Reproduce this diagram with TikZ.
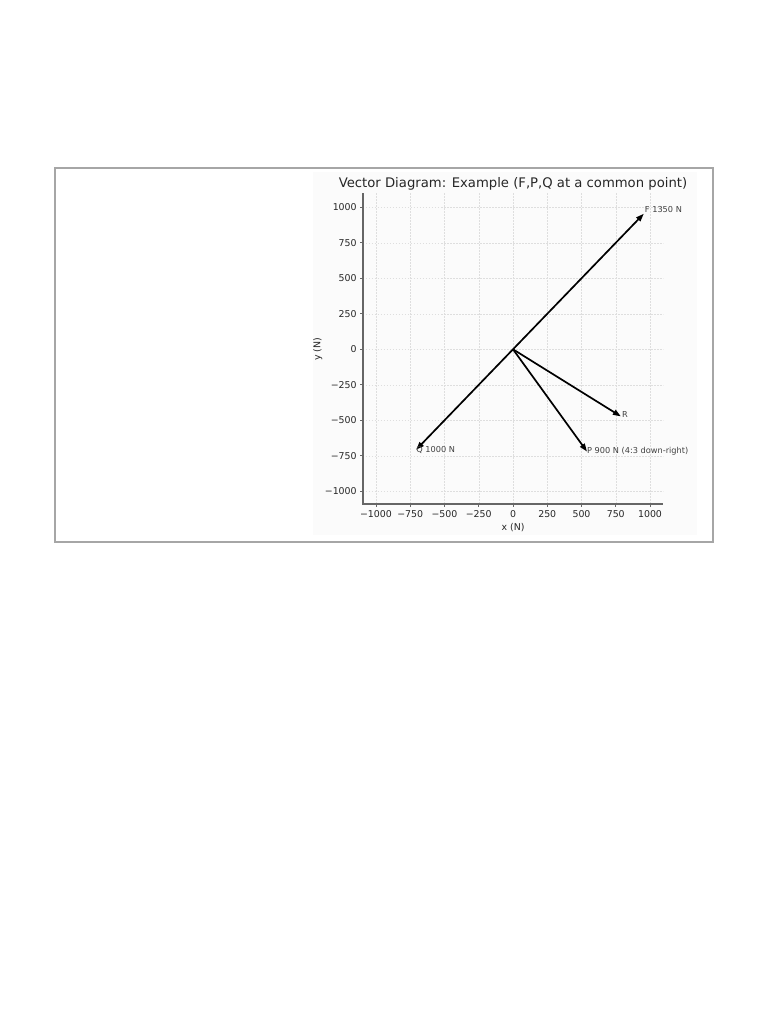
\documentclass[tikz,border=0pt]{standalone}
\usepackage{fontspec}
\setmainfont{DejaVu Sans}
\usetikzlibrary{arrows.meta}

\tikzset{
  frame/.style={draw=black!35, line width=1.3pt},
  gridline/.style={draw=black!13, line width=0.5pt, dash pattern=on 1.5pt off 1.5pt},
  spine/.style={draw=black!60, line width=1.2pt},
  tick/.style={draw=black!60, line width=0.8pt},
  ticklbl/.style={inner sep=0pt, text=black!85, font=\fontsize{9.4}{11}\selectfont},
  vec/.style={line width=1.7pt, -{Triangle[length=8pt,width=5.5pt]}},
  veclbl/.style={inner sep=0pt, anchor=west, text=black!75, font=\fontsize{8.2}{10}\selectfont}
}

\begin{document}
\begin{tikzpicture}[x=1pt,y=-1pt]
	\useasboundingbox (0,0) rectangle (768,1024);
	\fill[white] (0,0) rectangle (768,1024);
	\draw[frame] (55,168) rectangle (713,542);
	\fill[black!1.5] (313,172) rectangle (697,535);
	\node[text=black!85, font=\fontsize{13.2}{15}\selectfont] (title) at (513,184) {Vector Diagram: Example (F,P,Q at a common point)};
	\coordinate (O) at (513,349.3);
	\begin{scope}[shift={(O)}, x=0.137pt, y=0.142pt]
	% grid
	\draw[gridline] (-1000,-1089) -- (-1000,1100);
	\draw[gridline] (-750,-1089) -- (-750,1100);
	\draw[gridline] (-500,-1089) -- (-500,1100);
	\draw[gridline] (-250,-1089) -- (-250,1100);
	\draw[gridline] (0,-1089) -- (0,1100);
	\draw[gridline] (250,-1089) -- (250,1100);
	\draw[gridline] (500,-1089) -- (500,1100);
	\draw[gridline] (750,-1089) -- (750,1100);
	\draw[gridline] (1000,-1089) -- (1000,1100);
	\draw[gridline] (-1095,-1000) -- (1095,-1000);
	\draw[gridline] (-1095,-750) -- (1095,-750);
	\draw[gridline] (-1095,-500) -- (1095,-500);
	\draw[gridline] (-1095,-250) -- (1095,-250);
	\draw[gridline] (-1095,0) -- (1095,0);
	\draw[gridline] (-1095,250) -- (1095,250);
	\draw[gridline] (-1095,500) -- (1095,500);
	\draw[gridline] (-1095,750) -- (1095,750);
	\draw[gridline] (-1095,1000) -- (1095,1000);
	% axes
	\draw[spine] (-1095,1100) -- (-1095,-1089) -- (1095,-1089);
	% x ticks
	\draw[tick] (-1000,-1089) -- ++(0,-25) node[ticklbl, below=2.5pt] (xm1000) {−1000};
	\draw[tick] (-750,-1089) -- ++(0,-25) node[ticklbl, below=2.5pt] (xm750) {−750};
	\draw[tick] (-500,-1089) -- ++(0,-25) node[ticklbl, below=2.5pt] (xm500) {−500};
	\draw[tick] (-250,-1089) -- ++(0,-25) node[ticklbl, below=2.5pt] (xm250) {−250};
	\draw[tick] (0,-1089) -- ++(0,-25) node[ticklbl, below=2.5pt] (x0) {0};
	\draw[tick] (250,-1089) -- ++(0,-25) node[ticklbl, below=2.5pt] (x250) {250};
	\draw[tick] (500,-1089) -- ++(0,-25) node[ticklbl, below=2.5pt] (x500) {500};
	\draw[tick] (750,-1089) -- ++(0,-25) node[ticklbl, below=2.5pt] (x750) {750};
	\draw[tick] (1000,-1089) -- ++(0,-25) node[ticklbl, below=2.5pt] (x1000) {1000};
	% y ticks
	\draw[tick] (-1095,-1000) -- ++(-25,0) node[ticklbl, left=2.5pt] (ym1000) {−1000};
	\draw[tick] (-1095,-750) -- ++(-25,0) node[ticklbl, left=2.5pt] (ym750) {−750};
	\draw[tick] (-1095,-500) -- ++(-25,0) node[ticklbl, left=2.5pt] (ym500) {−500};
	\draw[tick] (-1095,-250) -- ++(-25,0) node[ticklbl, left=2.5pt] (ym250) {−250};
	\draw[tick] (-1095,0) -- ++(-25,0) node[ticklbl, left=2.5pt] (y0) {0};
	\draw[tick] (-1095,250) -- ++(-25,0) node[ticklbl, left=2.5pt] (y250) {250};
	\draw[tick] (-1095,500) -- ++(-25,0) node[ticklbl, left=2.5pt] (y500) {500};
	\draw[tick] (-1095,750) -- ++(-25,0) node[ticklbl, left=2.5pt] (y750) {750};
	\draw[tick] (-1095,1000) -- ++(-25,0) node[ticklbl, left=2.5pt] (y1000) {1000};
	\node[ticklbl] (xlabel) at (0,-1255) {x (N)};
	\node[ticklbl, rotate=90] (ylabel) at (-1425,0) {y (N)};
	% vectors
	\coordinate (Ftip) at (954.6,954.6);
	\coordinate (Ptip) at (540,-720);
	\coordinate (Qtip) at (-707.1,-707.1);
	\coordinate (Rtip) at (787.5,-472.5);
	\draw[vec] (0,0) coordinate (C) -- (Ftip);
	\draw[vec] (C) -- (Ptip);
	\draw[vec] (C) -- (Qtip);
	\draw[vec] (C) -- (Rtip);
	\node[veclbl, yshift=4pt, xshift=1pt] (Flbl) at (Ftip) {F 1350 N};
	\node[veclbl] (Plbl) at (Ptip) {P 900 N (4:3 down-right)};
	\node[veclbl] (Qlbl) at (Qtip) {Q 1000 N};
	\node[veclbl, yshift=2pt, xshift=1pt] (Rlbl) at (Rtip) {R};
	\end{scope}
\end{tikzpicture}
\end{document}
